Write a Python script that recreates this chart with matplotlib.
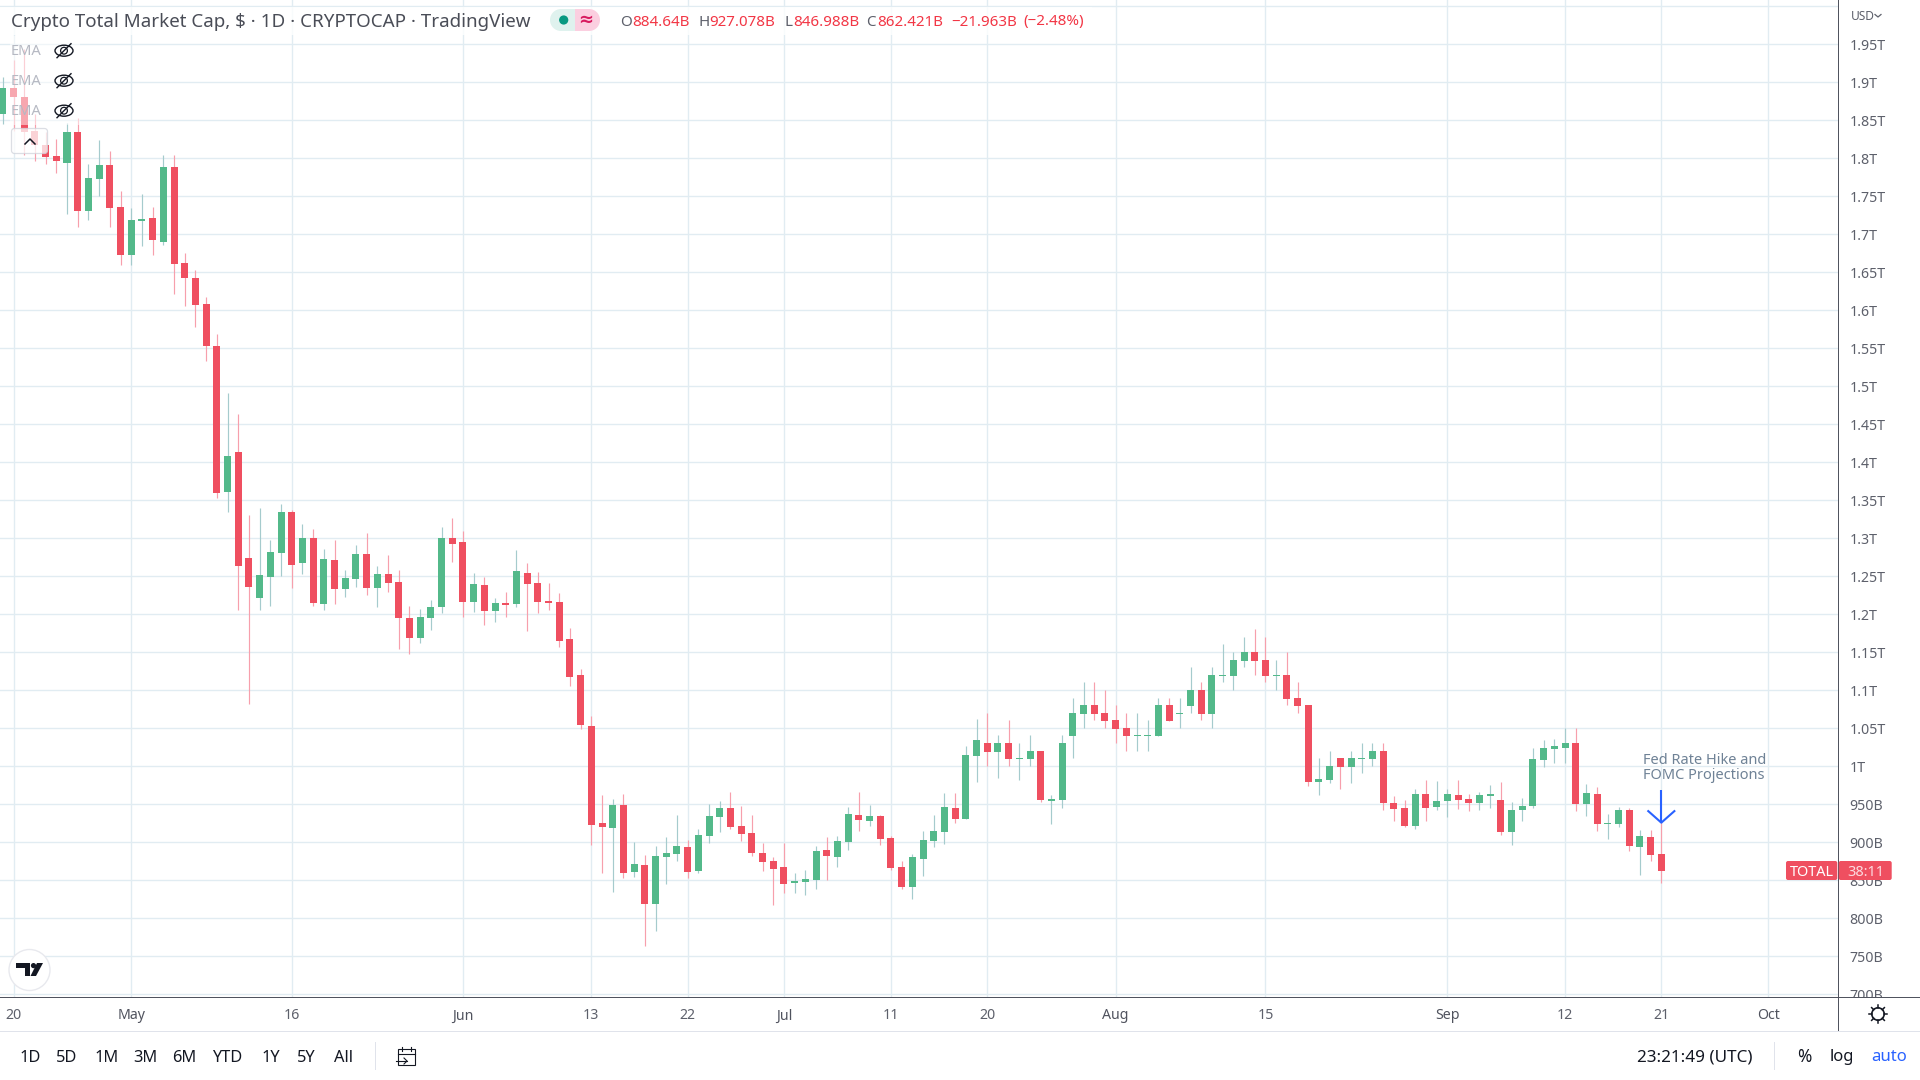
import matplotlib
matplotlib.use("Agg")
import matplotlib.pyplot as plt
from matplotlib.patches import Rectangle, FancyBboxPatch, Circle, Ellipse, Polygon
import numpy as np

FONT = "Noto Sans"
plt.rcParams["font.family"] = [FONT, "DejaVu Sans"]

first_day = -1  # day offset from 20 Apr 2022
opens = [1858,1892.5,1881,1836,1817,1803,1794,1834,1730,1773,
 1791,1736,1673,1717,1721,1690,1789,1662,1643,1608,
 1553,1361,1414,1274,1221.5,1249,1281,1335,1267.5,1300.5,
 1213.6,1271.5,1233,1246.5,1279,1234.7,1253,1242.5,1195,1169,
 1195,1209.6,1300,1295,1216,1238.6,1204,1215,1213.6,1254,
 1241,1217,1216,1167,1120,1053,925.4,919,949,861,
 870,819,880.7,884.6,894,862,908,933,945,921.5,
 912,886,875,867.5,846.5,848,850.4,890,880.7,900.4,
 936,928,934.6,905.7,867.5,841,878,902,913.6,945,
 930.7,1013.6,1030.7,1019,1030.7,1009.6,1009.6,1020,954.4,955.7,
 1040,1069,1080.7,1070,1061,1050,1040,1040,1040,1080.7,
 1069,1079.4,1100.4,1069,1119,1119,1139,1150,1140,1119,
 1120,1090,1080.7,979.4,982,1011,999,1009.6,1009.6,1020,
 951.8,945,921.5,963.6,946.5,954.4,962,957,951.8,961,
 955.7,913.6,942.5,948,1008,1023,1024,1030.7,950.4,963.6,
 924,924,942.5,894,907,884.64]
closes = [1892.5,1881,1835,1817,1802,1796,1834,1730,1774,1791,
 1735,1673,1719,1720,1692,1789,1661,1642,1607,1553,
 1360,1408,1264,1236,1252,1282,1335,1265,1300.5,1215,
 1273,1233,1248,1279,1234.7,1253,1241,1195,1169,1196.5,
 1209.6,1300.4,1292.5,1216,1240,1204,1215,1212,1257,1240,
 1216,1215,1165,1117.5,1054,923,920,949,859.6,871.5,
 819,882,886,895,861,909.6,934.6,945,920,911,
 886,874,865,845,849,852,888.6,882,901.8,937,
 929.4,934.6,904,866,841,880.7,903,915,946.5,930.7,
 1015,1034.6,1019,1030.7,1009.6,1011,1020,955.7,957,1030.7,
 1070,1080.7,1069,1059.6,1049,1040,1041,1041,1080.7,1059.6,
 1070,1100.4,1069,1120,1120,1140,1150,1139,1119,1120,
 1088.6,1079,979.4,983,1000.4,999,1011,1011,1020,951.8,
 944,921.5,963.6,945,954.4,963.6,955.7,951.8,962,963.6,
 913.6,942.5,948,1009.6,1024,1026.8,1030.7,950.4,965,924,
 925.4,942.5,895,908,883,862.421]
highs = [1907,1929,1944,1858,1834,1825,1846,1853,1793,1824,
 1810,1757,1735,1753,1736,1804,1804,1675,1653,1617,
 1569,1491,1464,1331,1340,1298,1345,1337,1319,1312,
 1286,1298,1258,1291,1307,1263.6,1278,1258,1211,1207,
 1219,1315,1327,1310,1254,1249,1221.5,1229,1284.6,1267.5,
 1256,1241,1228,1182,1128,1066,962,957,963.6,900.4,
 883,895,907,936,903,917.5,950,954,966,948,
 936,899,881,899,859.6,863.6,895,907,908,946.5,
 966,949,936,908,875.5,884.6,915,936,965,965,
 1026.8,1062,1070,1041,1061,1030.7,1041,1020,962,1041,
 1090,1111,1111,1100,1081,1070,1070,1061,1090,1090,
 1090,1130.7,1111,1130.7,1161,1150,1170,1180.7,1170,1140,
 1150,1111,1080.7,1011,1020,1011,1020,1030.7,1030.7,1030.7,
 961,955.7,970,982,980.7,970,982,963.6,966,975.4,
 979.4,953,958,1024,1034.6,1036,1050,1050,976.8,972.8,
 937,946.5,945,916,916,927.078]
lows = [1845,1836,1805,1796,1792,1781,1727,1709,1719,1751,
 1710,1660,1659,1685,1673,1686,1621,1605,1578,1533,
 1353.5,1334,1205,1082,1205,1211,1250,1235,1253,1211,
 1205,1213.6,1223,1236,1225.5,1210,1229,1154,1148,1162,
 1179,1202,1269,1196.5,1203,1186,1190,1196.5,1210,1178,
 1202,1206,1157,1105.7,1049,896.5,859.6,834.6,853,854,
 763.6,783,845,875,853,859.6,899,913.6,917.5,902,
 882,862,817.5,833,833,830.7,838.6,850.4,867.5,890,
 915,921.5,896.5,863.6,838.6,825.4,855.7,894,898,925.4,
 930.7,979.4,1000.4,984.6,1000.4,982,1000.4,953,924,945,
 1011,1050,1061,1050,1031,1020,1020,1020,1040,1059.6,
 1050,1070,1061,1050,1111,1100,1130.7,1120,1111,1100,
 1080.7,1070,974,962,978,970,978,991,1000.4,942.5,
 928,920,917.5,928,942.5,933,944,941,942.5,945,
 909.6,896.5,928,945,999,1004,1004,941,934.6,915,
 904.4,920,888.6,857,875.5,846.988]

price_ticks = list(range(700, 2050, 50))
price_labels = ["700B","750B","800B","850B","900B","950B","1T","1.05T","1.1T","1.15T","1.2T",
 "1.25T","1.3T","1.35T","1.4T","1.45T","1.5T","1.55T","1.6T","1.65T","1.7T","1.75T","1.8T",
 "1.85T","1.9T","1.95T",""]
date_ticks = [0,11,26,42,54,63,72,82,91,103,117,134,145,154,164]
date_labels = ["20","May","16","Jun","13","22","Jul","11","20","Aug","15","Sep","12","21","Oct"]
months = {"May","Jun","Jul","Aug","Sep","Oct"}
range_buttons = ["1D","5D","1M","3M","6M","YTD","1Y","5Y","All"]

RED, GREEN = "#ef4f60", "#53b98a"
RED_W, GREEN_W = "#f79fac", "#a5cbcd"
GRID = "#e1ecf2"
AXIS = "#50535e"
TXT = "#5d606b"

W, H = 1920, 1080
fig = plt.figure(figsize=(W/100, H/100), dpi=100, facecolor="white")
AX_R, AX_B = 1838.3, 997.3
ax = fig.add_axes([0, 1-AX_B/H, AX_R/W, AX_B/H])
ax.set_xlim(-1.262, 170.54)
ax.set_ylim(696.0, 2008.3)

days = np.arange(len(opens)) + first_day
o, h, l, c = map(np.array, (opens, highs, lows, closes))
up = c >= o
ax.vlines(days[up], l[up], h[up], color=GREEN_W, lw=0.85, zorder=3)
ax.vlines(days[~up], l[~up], h[~up], color=RED_W, lw=0.85, zorder=3)
ax.bar(days, np.abs(c-o), bottom=np.minimum(o, c), width=0.655,
       color=np.where(up, GREEN, RED), zorder=4, linewidth=0)

ax.set_yticks(price_ticks, price_labels)
ax.set_xticks(date_ticks, date_labels)
ax.yaxis.tick_right()
ax.tick_params(axis="y", length=0, pad=8.2, labelsize=10.2, labelcolor=TXT)
ax.tick_params(axis="x", length=0, pad=8.0, labelsize=10.2, labelcolor=TXT)
for t in ax.get_xticklabels():
    if t.get_text() in months:
        t.set_fontweight("bold")
        t.set_color("#50535e")
ax.grid(True, color=GRID, lw=1.0, zorder=0)
ax.set_axisbelow(True)
for s in ax.spines.values():
    s.set_visible(False)

# Annotation in data space
note_day = days[-1]
ax.plot([note_day, note_day], [968.8, 925.8], color="#2962ff", lw=1.5, zorder=6, solid_capstyle="butt")
ax.plot([note_day-1.22, note_day, note_day+1.22], [941, 925.8, 941], color="#2962ff", lw=1.5, zorder=6)
ax.text(note_day-1.72, 997.5, "Fed Rate Hike and\nFOMC Projections", color="#6f8296",
        fontsize=10.5, ha="left", va="center", linespacing=1.0, zorder=6)

# Interface chrome, laid out in pixels
ui = fig.add_axes([0, 0, 1, 1], zorder=10)
ui.set_xlim(0, W); ui.set_ylim(H, 0); ui.axis("off"); ui.patch.set_alpha(0)

def T(x, y, s, size=10.2, color=TXT, ha="left", va="center", **k):
    return ui.text(x, y, s, fontsize=size, color=color, ha=ha, va=va, **k)

def R(x0, y0, x1, y1, color, alpha=1.0, z=1):
    ui.add_patch(Rectangle((x0, y0), x1-x0, y1-y0, fc=color, ec="none", alpha=alpha, zorder=z))

# frame
R(AX_R, 997.8, W, 1031, "white")
R(0, AX_B-0.3, W, AX_B+0.7, AXIS, z=2)
R(AX_R-0.5, 0, AX_R+0.5, 1031, AXIS, z=2)
R(0, 1030.8, W, 1032, "#e0e3eb", z=2)
R(0, 1032, W, H, "white")
# header backdrop
R(0, 7, 1092, 35, "white", 0.8)
R(10, 36, 80, 125, "white", 0.5)

T(11, 22, "Crypto Total Market Cap, $ · 1D · CRYPTOCAP · TradingView", size=13.5, color="#4a4d57", zorder=5)

# status pill
R(561, 9, 575, 31, "#dff2ee", z=2)
ui.add_patch(Circle((561, 20), 11, fc="#dff2ee", ec="none", zorder=2))
R(575, 9, 589, 31, "#fbcfe0", z=3)
ui.add_patch(Circle((589, 20), 11, fc="#fbcfe0", ec="none", zorder=3))
ui.add_patch(Circle((563.7, 20), 4.6, fc="#089981", ec="none", zorder=4))
T(586, 20, "≈", size=13, color="#d81b60", ha="center", zorder=5, fontweight="bold", family="DejaVu Sans")

OHLC_RED = "#f23645"
segs = [(620.5,"O",TXT),(632,"884.64B",OHLC_RED),(698,"H",TXT),(709,"927.078B",OHLC_RED),
        (784,"L",TXT),(793,"846.988B",OHLC_RED),(866.5,"C",TXT),(877.5,"862.421B",OHLC_RED),
        (951,"−21.963B",OHLC_RED),(1023.7,"(−2.48%)",OHLC_RED)]
for x, s, col in segs:
    T(x, 22, s, size=10.9, color=col, zorder=5)

# collapsed indicators
for yy in (50.7, 80.7, 110.7):
    T(11, yy+1, "EMA", size=10.6, color="#b6b9c3", zorder=5)
    ui.add_patch(Ellipse((64, yy), 18, 11, fc="none", ec="#131722", lw=1.0, zorder=5))
    ui.add_patch(Circle((64, yy), 3.4, fc="none", ec="#131722", lw=0.9, zorder=5))
    ui.plot([57, 71], [yy+7, yy-7], color="#131722", lw=1.0, zorder=5)
ui.add_patch(FancyBboxPatch((11.5, 128.5), 36, 25, boxstyle="round,pad=0,rounding_size=3", fc="white", ec="#d1d4dc", lw=0.9, alpha=0.75, zorder=4))
ui.plot([25, 30, 35], [144, 139, 144], color="#131722", lw=1.1, zorder=5)

# logo badge
ui.add_patch(Circle((29.5, 970), 20.5, fc="white", ec="#e8e9ee", lw=1.0, zorder=4))
ui.add_patch(Polygon([(16,963),(30,963),(30,976),(25,976),(25,968),(16,968)], fc="#131722", ec="none", zorder=5))
ui.add_patch(Circle((33.5, 965.6), 2.6, fc="#131722", ec="none", zorder=5))
ui.add_patch(Polygon([(37,963),(43,963),(36,976),(30.5,976)], fc="#131722", ec="none", zorder=5))

# usd
T(1851, 16, "USD", size=8.6, color=TXT, zorder=5)
ui.plot([1875, 1878, 1881], [14.5, 17, 14.5], color=TXT, lw=0.9, zorder=5)

# price label
ui.add_patch(FancyBboxPatch((1786, 861), 51.3, 19, boxstyle="round,pad=0,rounding_size=2", fc=RED, ec="none", zorder=5))
ui.add_patch(FancyBboxPatch((1838.7, 861), 53, 19, boxstyle="round,pad=0,rounding_size=2", fc=RED, ec="none", zorder=5))
T(1811.5, 872, "TOTAL", size=10.4, color="white", ha="center", zorder=6)
T(1866, 872, "38:11", size=10.4, color="#fcdbe0", ha="center", zorder=6)

# gear
gx, gy = 1878, 1014
ui.add_patch(Circle((gx, gy), 6.2, fc="none", ec="#131722", lw=1.2, zorder=5))
for a in np.deg2rad(np.arange(0, 360, 45)):
    ui.plot([gx+6*np.cos(a), gx+9*np.cos(a)], [gy+6*np.sin(a), gy+9*np.sin(a)], color="#131722", lw=1.1, zorder=5)

# range bar
for x, s in zip([30,67,106.5,145,184,227,270.6,306,344], range_buttons):
    T(x, 1057.5, s, size=11.8, color="#131722", ha="center", zorder=5)
R(375, 1041.7, 376, 1070, "#e0e3eb", z=5)
ui.add_patch(Rectangle((398, 1049), 17, 16, fc="none", ec="#131722", lw=0.8, zorder=5))
ui.plot([398, 415], [1053.5, 1053.5], color="#131722", lw=0.8, zorder=5)
ui.plot([396, 407], [1061, 1061], color="#131722", lw=0.8, zorder=6)
ui.plot([404, 407, 404], [1058, 1061, 1064], color="#131722", lw=0.8, zorder=6)
ui.plot([402, 402], [1046.5, 1051], color="#131722", lw=0.8, zorder=5)
ui.plot([411, 411], [1046.5, 1051], color="#131722", lw=0.8, zorder=5)

T(1695, 1057, "23:21:49 (UTC)", size=12.3, color="#131722", ha="center", zorder=5)
R(1774, 1041.7, 1775, 1070, "#e0e3eb", z=5)
T(1804, 1057, "%", size=12.4, color="#131722", ha="center", zorder=5)
T(1842, 1057, "log", size=12, color="#131722", ha="center", zorder=5)
T(1889, 1057, "auto", size=12, color="#2962ff", ha="center", zorder=5)

fig.savefig("out.png", dpi=100)
